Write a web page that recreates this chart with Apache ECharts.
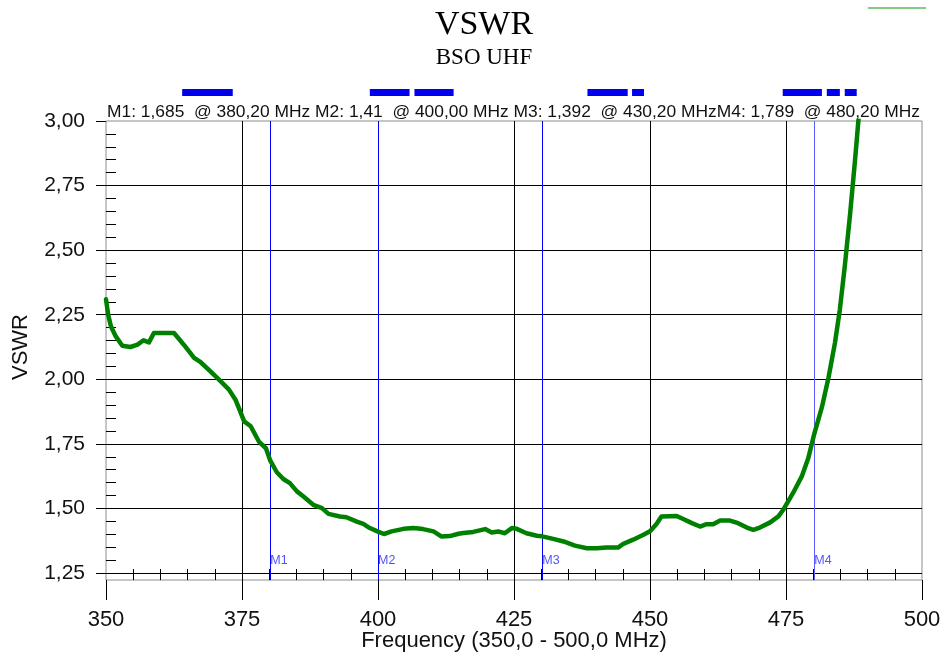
<!DOCTYPE html>
<html><head><meta charset="utf-8">
<script src="https://cdn.jsdelivr.net/npm/echarts@6/dist/echarts.min.js"></script>
<style>html,body{margin:0;padding:0;background:#fff}#c{width:946px;height:657px}</style>
</head><body><div id="c"></div>
<script>
// ---- data ----
const freqs = [350.0,350.4,350.9,351.8,353.0,354.5,355.8,356.9,357.9,358.8,360.7,362.5,364.3,366.2,367.4,369.2,371.1,372.6,373.8,375.4,376.6,378.1,379.4,380.2,381.4,382.6,383.8,385.1,386.3,388.1,389.7,390.9,393.0,394.2,396.1,397.3,398.5,400.0,401.1,402.5,404.7,406.5,408.3,410.2,411.7,413.2,414.8,415.7,417.5,419.7,420.9,422.1,423.3,424.6,425.5,427.3,429.2,430.2,432.2,434.1,436.2,438.4,440.2,442.0,444.2,445.1,446.9,448.8,450.0,451.2,452.1,454.9,456.1,457.7,459.2,460.4,461.6,462.9,464.7,466.2,467.8,469.0,470.2,472.1,473.6,474.5,475.4,476.3,477.9,479.1,480.2,481.6,482.8,484.0,484.9,485.8,486.8,487.7,488.3,489.0];
const vswr  = [2.310,2.250,2.205,2.166,2.130,2.125,2.134,2.151,2.143,2.179,2.179,2.179,2.134,2.083,2.066,2.031,1.992,1.960,1.921,1.837,1.818,1.759,1.733,1.685,1.640,1.614,1.598,1.566,1.546,1.514,1.501,1.479,1.469,1.466,1.449,1.440,1.424,1.410,1.401,1.411,1.421,1.424,1.420,1.411,1.391,1.393,1.402,1.405,1.409,1.420,1.407,1.411,1.404,1.424,1.421,1.404,1.394,1.392,1.382,1.372,1.356,1.346,1.346,1.349,1.349,1.363,1.379,1.398,1.412,1.440,1.469,1.471,1.459,1.443,1.430,1.439,1.439,1.453,1.453,1.443,1.426,1.417,1.426,1.446,1.469,1.495,1.527,1.560,1.624,1.695,1.789,1.892,2.005,2.141,2.270,2.437,2.644,2.851,3.000,3.150];
const markerNames  = ['M1','M2','M3','M4'];
const markerFreqs  = [380.2, 400.0, 430.2, 480.2];
const markerValues = [1.685, 1.41, 1.392, 1.789];
const markerLabelLevel = 1.30;
const bandStarts = [364.0, 398.5, 406.7, 438.5, 446.7, 474.4, 482.5, 485.8];
const bandEnds   = [373.3, 405.8, 413.9, 445.9, 448.9, 481.6, 484.9, 488.0];
const xMin = 350, xMax = 500, xStep = 25;
const yMin = 1.25, yMax = 3.00, yStep = 0.25;
const yFrameMin = 1.2229;
const titleText = 'VSWR';
const subTitleText = 'BSO UHF';
const xName = 'Frequency (350,0 - 500,0 MHz)';
const yName = 'VSWR';

// ---- helpers ----
const comma = s => String(s).replace('.', ',');
const headerText = markerNames.map((n, i) =>
  n + ': ' + comma(markerValues[i]) + '  @ ' + comma(markerFreqs[i].toFixed(2)) + ' MHz'
).join(' ').replace('MHz M4', 'MHzM4');

const SANS = 'Liberation Sans';
const SERIF = 'Liberation Serif';
const TXT = '#111';

const chart = echarts.init(document.getElementById('c'), null, {renderer: 'canvas'});
chart.setOption({
  animation: false,
  backgroundColor: '#fff',
  title: [
    {text: titleText, left: 484, textAlign: 'center', top: 8, padding: 0,
     textStyle: {fontFamily: SERIF, fontSize: 34, fontWeight: 'normal', color: '#000'}},
    {text: subTitleText, left: 484, textAlign: 'center', top: 46, padding: 0,
     textStyle: {fontFamily: SERIF, fontSize: 23, fontWeight: 'normal', color: '#000'}},
    {text: headerText, left: 107, top: 104, padding: 0,
     textStyle: {fontFamily: SANS, fontSize: 17.4, fontWeight: 'normal', color: TXT}}
  ],
  graphic: [
    {type: 'line', shape: {x1: 868, y1: 8, x2: 926, y2: 8}, style: {stroke: '#5cb85c', lineWidth: 1.5}, silent: true}
  ],
  grid: [
    {left: 106, right: 24, top: 121, bottom: 84, outerBoundsMode: 'none', containLabel: false},
    {left: 106, right: 24, top: 121, bottom: 77, show: true, borderColor: '#8c8c8c', borderWidth: 1,
     backgroundColor: 'transparent', outerBoundsMode: 'none', containLabel: false},
    {left: 106, right: 24, top: 89, height: 7, outerBoundsMode: 'none', containLabel: false}
  ],
  xAxis: [
    {gridIndex: 0, type: 'value', min: xMin, max: xMax, show: false},
    {gridIndex: 1, type: 'value', min: xMin, max: xMax, interval: xStep, position: 'bottom',
     axisLine: {show: false},
     axisTick: {show: true, inside: false, length: 20, lineStyle: {color: '#000', width: 1}},
     axisLabel: {show: true, margin: 29, fontFamily: SANS, fontSize: 22, color: TXT},
     splitLine: {show: true, showMinLine: false, showMaxLine: false, lineStyle: {color: '#000', width: 1}},
     name: xName, nameLocation: 'middle', nameGap: 50, nameMoveOverlap: false,
     nameTextStyle: {fontFamily: SANS, fontSize: 22, color: TXT}},
    {gridIndex: 1, type: 'value', min: xMin, max: xMax, interval: xStep, position: 'bottom',
     axisLine: {show: false}, axisLabel: {show: false},
     axisTick: {show: false, inside: true},
     minorTick: {show: true, splitNumber: 5, length: 11, lineStyle: {color: '#000', width: 1}},
     splitLine: {show: false}},
    {gridIndex: 2, type: 'value', min: xMin, max: xMax, show: false}
  ],
  yAxis: [
    {gridIndex: 0, type: 'value', min: yMin, max: yMax, interval: yStep, position: 'left',
     axisLine: {show: false},
     axisTick: {show: true, inside: false, length: 10, lineStyle: {color: '#000', width: 1}},
     axisLabel: {show: true, margin: 21, fontFamily: SANS, fontSize: 21, color: TXT,
                 formatter: v => comma(v.toFixed(2))},
     splitLine: {show: true, showMinLine: true, showMaxLine: false, lineStyle: {color: '#000', width: 1}},
     name: yName, nameLocation: 'middle', nameGap: 74, nameRotate: 90, nameMoveOverlap: false,
     nameTextStyle: {fontFamily: SANS, fontSize: 22, color: TXT}},
    {gridIndex: 0, type: 'value', min: yMin, max: yMax, interval: yStep, position: 'left',
     axisLine: {show: false}, axisLabel: {show: false},
     axisTick: {show: false, inside: true},
     minorTick: {show: true, splitNumber: 5, length: 10, lineStyle: {color: '#000', width: 1}},
     splitLine: {show: false}},
    {gridIndex: 1, type: 'value', min: yFrameMin, max: yMax, show: false},
    {gridIndex: 2, type: 'value', min: 0, max: 1, show: false}
  ],
  series: [
    {type: 'line', xAxisIndex: 0, yAxisIndex: 0, data: freqs.map((f, i) => [f, vswr[i]]),
     showSymbol: false, symbol: 'none', smooth: false, clip: true, z: 5,
     lineStyle: {color: '#008000', width: 4.5, join: 'round', cap: 'round'}},
    {type: 'scatter', xAxisIndex: 1, yAxisIndex: 2, symbolSize: 0, z: 4, silent: true,
     data: markerFreqs.map((f, i) => ({name: markerNames[i], value: [f, markerLabelLevel]})),
     label: {show: true, position: 'right', distance: 0, formatter: '{b}',
             fontFamily: SANS, fontSize: 12.5, color: '#2626ff'},
     markLine: {silent: true, symbol: ['none', 'none'], label: {show: false},
       data: markerFreqs.map((f, i) => ({xAxis: f,
         lineStyle: {color: i === 3 ? '#5a5aff' : '#0000ff', width: 1, type: 'solid'}}))}},
    {type: 'custom', xAxisIndex: 3, yAxisIndex: 3, silent: true,
     data: bandStarts.map((s, i) => [s, bandEnds[i]]),
     encode: {x: [0, 1]},
     renderItem: (params, api) => {
       const p0 = api.coord([api.value(0), 1]);
       const p1 = api.coord([api.value(1), 0]);
       return {type: 'rect', shape: {x: p0[0], y: p0[1], width: p1[0] - p0[0], height: p1[1] - p0[1]},
               style: {fill: '#0000ee'}};
     }}
  ]
});
</script>
</body></html>
